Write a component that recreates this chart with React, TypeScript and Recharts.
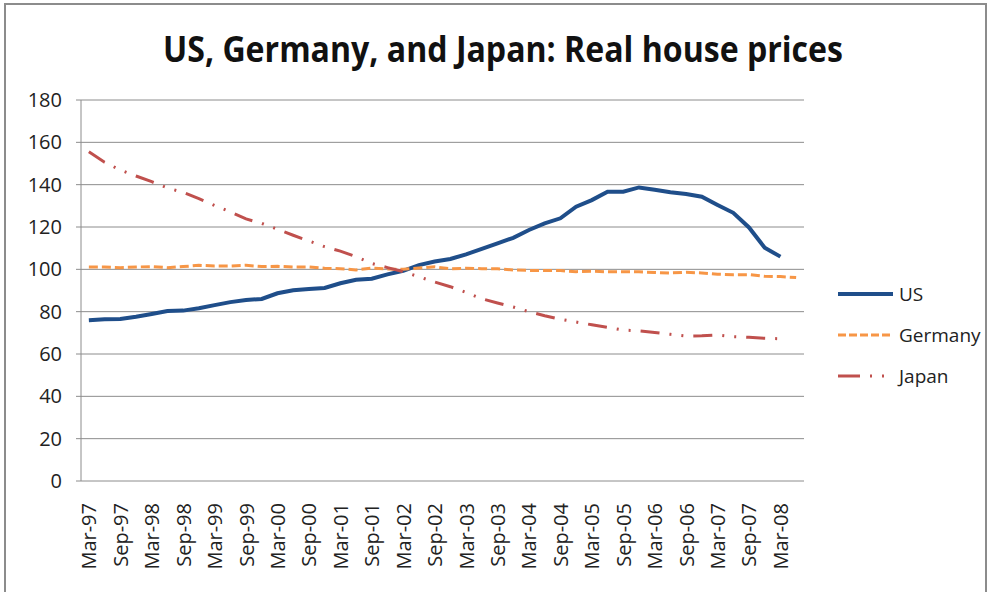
import { LineChart, Line, XAxis, YAxis, CartesianGrid, Legend } from 'recharts';

// quarterly categories, Mar-97 .. Jun-08
const quarters = [
    'Mar-97', 'Jun-97', 'Sep-97', 'Dec-97',
    'Mar-98', 'Jun-98', 'Sep-98', 'Dec-98',
    'Mar-99', 'Jun-99', 'Sep-99', 'Dec-99',
    'Mar-00', 'Jun-00', 'Sep-00', 'Dec-00',
    'Mar-01', 'Jun-01', 'Sep-01', 'Dec-01',
    'Mar-02', 'Jun-02', 'Sep-02', 'Dec-02',
    'Mar-03', 'Jun-03', 'Sep-03', 'Dec-03',
    'Mar-04', 'Jun-04', 'Sep-04', 'Dec-04',
    'Mar-05', 'Jun-05', 'Sep-05', 'Dec-05',
    'Mar-06', 'Jun-06', 'Sep-06', 'Dec-06',
    'Mar-07', 'Jun-07', 'Sep-07', 'Dec-07',
    'Mar-08', 'Jun-08',
];

const usValues = [
    76.0, 76.4, 76.5, 77.6, 78.9, 80.3, 80.5, 81.6, 83.1, 84.5,
    85.5, 86.0, 88.7, 90.1, 90.7, 91.2, 93.4, 95.1, 95.6, 97.6,
    99.3, 102.0, 103.7, 104.9, 107.1, 109.7, 112.3, 114.9, 118.6, 121.7,
    124.1, 129.6, 132.7, 136.7, 136.7, 138.7, 137.6, 136.4, 135.6, 134.3,
    130.4, 126.7, 119.8, 110.2, 106.0,
];

const germanyValues = [
    101.1, 101.1, 100.8, 101.1, 101.3, 100.8, 101.3, 101.9, 101.6, 101.6,
    101.9, 101.3, 101.4, 101.1, 101.1, 100.5, 100.3, 99.7, 100.6, 100.2,
    100.0, 100.6, 101.2, 100.2, 100.5, 100.3, 100.3, 99.7, 99.5, 99.4,
    99.4, 98.9, 99.1, 98.8, 98.8, 98.8, 98.5, 98.3, 98.6, 98.3,
    97.7, 97.5, 97.5, 96.7, 96.6, 96.1,
];

const japanValues = [
    155.5, 150.6, 146.9, 144.1, 141.4, 138.4, 136.4, 133.4, 130.2, 127.2,
    123.8, 121.7, 118.9, 116.1, 113.4, 110.7, 108.6, 106.0, 102.8, 100.8,
    98.9, 96.5, 94.0, 91.8, 89.1, 86.1, 84.1, 82.2, 80.0, 78.1,
    76.4, 75.1, 73.8, 72.6, 71.3, 70.9, 70.2, 69.3, 68.5, 68.6,
    69.0, 68.2, 67.9, 67.4, 67.2,
];

const yTicks = [0, 20, 40, 60, 80, 100, 120, 140, 160, 180];

const data = quarters.map((q, i) => ({
    i,
    quarter: q,
    us: usValues[i] ?? null,
    germany: germanyValues[i] ?? null,
    japan: japanValues[i] ?? null,
}));

// labels on every second quarter, tick marks on the category boundaries
const labelTicks = quarters.map((_, i) => i).filter((i) => i % 2 === 0);
const boundaryTicks = [...labelTicks.map((i) => i - 0.5), quarters.length - 0.5];

const series = [
    { key: 'us', name: 'US', color: '#1F4E8A', width: 4, dash: undefined, legendDash: undefined },
    { key: 'germany', name: 'Germany', color: '#F79646', width: 3, dash: '9 4', legendDash: '8 3' },
    { key: 'japan', name: 'Japan', color: '#C0504D', width: 3, dash: '19 10 2 10 2 10', legendDash: '22 10 2 10 2 10' },
];

const FONT = '"Open Sans", sans-serif';
const GRAY = '#8c8c8c';

function QuarterTick({ x, y, payload }: any) {
    return (
        <text
            x={x}
            y={y}
            transform={`rotate(-90 ${x} ${y})`}
            textAnchor="end"
            dominantBaseline="central"
            fontSize={20}
            fontFamily={FONT}
            fill="#222"
        >
            {quarters[payload.value]}
        </text>
    );
}

function LegendBox() {
    return (
        <svg width={154} height={110}>
            {series.map((s, k) => (
                <g key={s.key}>
                    <line x1={0} x2={55} y1={14 + k * 41} y2={14 + k * 41} stroke={s.color} strokeWidth={s.width} strokeDasharray={s.legendDash} />
                    <text x={61} y={14 + k * 41} dominantBaseline="central" fontSize={19} fontFamily={FONT} fill="#222">
                        {s.name}
                    </text>
                </g>
            ))}
        </svg>
    );
}

export default function App() {
    return (
        <div style={{ position: 'absolute', left: 0, top: 0, width: 992, height: 592, background: '#fff', overflow: 'hidden' }}>
            <div style={{ position: 'absolute', left: 4, top: 3, width: 979, height: 600, borderLeft: `2px solid ${GRAY}`, borderTop: `2px solid ${GRAY}`, borderRight: `2px solid ${GRAY}` }} />
            <svg width={992} height={80} style={{ position: 'absolute', left: 0, top: 0 }}>
                <text x={503} y={62} textAnchor="middle" fontSize={35} fontWeight="bold" fontFamily={FONT} fill="#111" textLength={680} lengthAdjust="spacingAndGlyphs">
                    US, Germany, and Japan: Real house prices
                </text>
            </svg>
            <div style={{ position: 'absolute', left: 0, top: 0 }}>
                <LineChart width={992} height={592} data={data} margin={{ top: 100, right: 188, bottom: 0, left: 0 }}>
                    <CartesianGrid xAxisId="labels" vertical={false} stroke={GRAY} />
                    <XAxis
                        xAxisId="marks"
                        type="number"
                        dataKey="i"
                        domain={[-0.5, quarters.length - 0.5]}
                        ticks={boundaryTicks}
                        interval={0}
                        tick={false}
                        tickSize={7}
                        tickLine={{ stroke: GRAY }}
                        axisLine={{ stroke: GRAY }}
                        height={0}
                    />
                    <XAxis
                        xAxisId="labels"
                        type="number"
                        dataKey="i"
                        domain={[-0.5, quarters.length - 0.5]}
                        ticks={labelTicks}
                        interval={0}
                        tick={<QuarterTick />}
                        tickLine={false}
                        axisLine={false}
                        tickSize={0}
                        tickMargin={22}
                        height={111}
                    />
                    <YAxis
                        domain={[0, 180]}
                        ticks={yTicks}
                        interval={0}
                        width={81}
                        tickSize={5}
                        tickMargin={14}
                        tickLine={{ stroke: GRAY }}
                        axisLine={{ stroke: GRAY }}
                        tick={{ fontSize: 20, fontFamily: FONT, fill: '#222' }}
                    />
                    {series.map((s) => (
                        <Line
                            key={s.key}
                            xAxisId="labels"
                            type="linear"
                            dataKey={s.key}
                            name={s.name}
                            stroke={s.color}
                            strokeWidth={s.width}
                            strokeDasharray={s.dash}
                            dot={false}
                            activeDot={false}
                            connectNulls={false}
                            isAnimationActive={false}
                        />
                    ))}
                    <Legend
                        layout="vertical"
                        align="center"
                        verticalAlign="middle"
                        wrapperStyle={{ left: 838, top: 280, width: 154, height: 110 }}
                        content={<LegendBox />}
                    />
                </LineChart>
            </div>
        </div>
    );
}
